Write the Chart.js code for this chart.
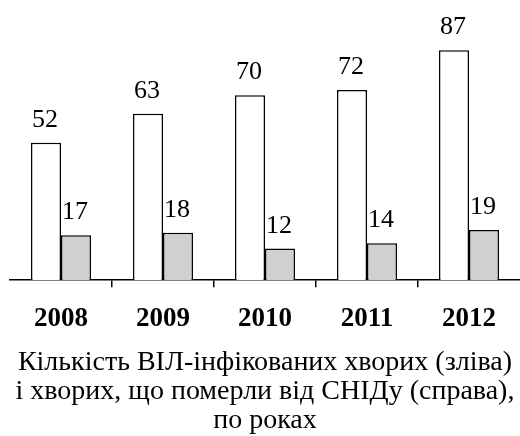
<!DOCTYPE html>
<html>
<head>
<meta charset="utf-8">
<script src="https://cdn.jsdelivr.net/npm/chart.js@4/dist/chart.umd.min.js"></script>
<style>
  html, body { margin: 0; padding: 0; background: #fff; }
  #wrap { width: 520px; height: 436px; }
</style>
</head>
<body>
<div id="wrap"><canvas id="c" width="520" height="436"></canvas></div>
<script>
const years = ['2008', '2009', '2010', '2011', '2012'];
const infected = [52, 63, 70, 72, 87];
const died = [17, 18, 12, 14, 19];
const caption = [
  'Кількість ВІЛ-інфікованих хворих (зліва)',
  'і хворих, що померли від СНІДу (справа),',
  'по роках'
];

const SERIF = '"Liberation Serif", "Times New Roman", serif';

const valueLabels = {
  id: 'valueLabels',
  afterDatasetsDraw(chart) {
    const ctx = chart.ctx;
    ctx.save();
    ctx.font = '26px ' + SERIF;
    ctx.fillStyle = '#000';
    ctx.textAlign = 'center';
    ctx.textBaseline = 'alphabetic';
    chart.data.datasets.forEach((ds, di) => {
      const meta = chart.getDatasetMeta(di);
      meta.data.forEach((bar, i) => {
        ctx.fillText(String(ds.data[i]), bar.x - 1, bar.y - 16);
      });
    });
    ctx.restore();
  }
};

new Chart(document.getElementById('c'), {
  type: 'bar',
  data: {
    labels: years,
    datasets: [
      { data: infected, backgroundColor: '#ffffff', borderColor: '#000', borderWidth: 1.5 },
      { data: died, backgroundColor: '#d0d0d0', borderColor: '#000', borderWidth: 1.5 }
    ]
  },
  options: {
    responsive: false,
    animation: false,
    devicePixelRatio: 1,
    layout: { padding: { top: 16, left: 10, right: 0, bottom: 1 } },
    plugins: { legend: { display: false }, tooltip: { enabled: false } },
    datasets: { bar: { categoryPercentage: 0.588, barPercentage: 1.0 } },
    scales: {
      y: { display: false, min: 0, max: 100 },
      x: {
        offset: true,
        border: { display: true, color: '#000', width: 1.5 },
        grid: {
          offset: true,
          drawOnChartArea: false,
          drawTicks: true,
          tickLength: 7,
          lineWidth: 1.5,
          color: (c) => (c.type === 'tick' && c.index > 0) ? '#000' : 'rgba(0,0,0,0)'
        },
        ticks: {
          color: '#000',
          padding: 16,
          font: { family: SERIF, size: 27, weight: 'bold' }
        },
        title: {
          display: true,
          text: caption,
          color: '#000',
          padding: { top: -4, bottom: 0 },
          font: { family: SERIF, size: 28, lineHeight: 1.04 }
        }
      }
    }
  },
  plugins: [valueLabels]
});
</script>
</body>
</html>
